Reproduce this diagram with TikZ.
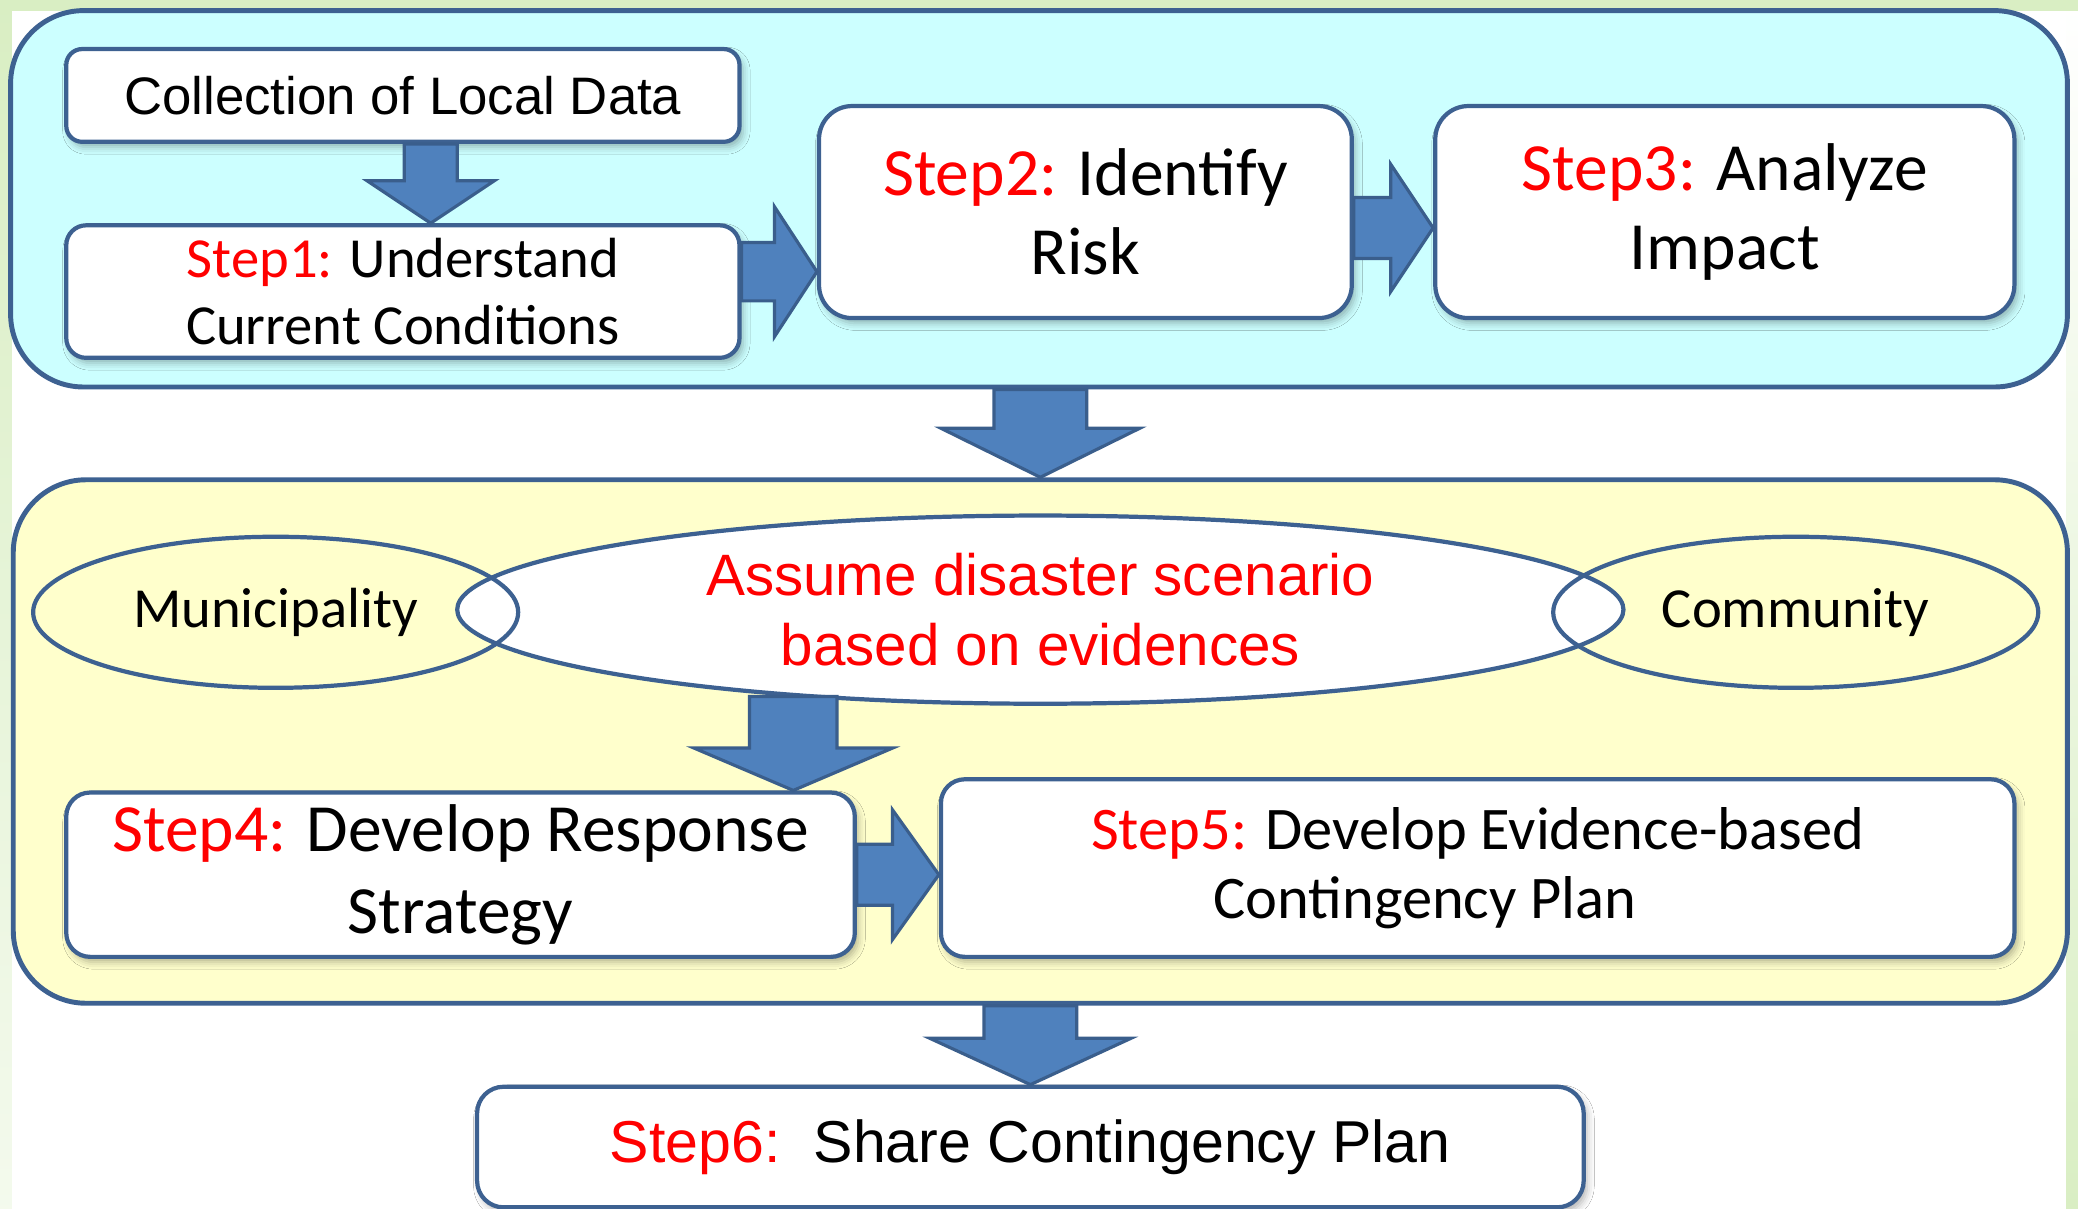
\documentclass[tikz,border=0pt]{standalone}
\usepackage{fontspec}
\setmainfont{Carlito}
\newfontfamily\arialfont{Liberation Sans}
\usetikzlibrary{shapes.geometric,calc,shadows.blur}

\newlength{\unitpx}
\setlength{\unitpx}{0.01325cm}

\definecolor{edgeblue}{HTML}{3D6191}
\definecolor{arrowfill}{HTML}{4F81BD}
\definecolor{arrowedge}{HTML}{3A5E8C}
\definecolor{cyanpanel}{HTML}{CCFFFF}
\definecolor{yellowpanel}{HTML}{FFFFCC}
\definecolor{framegreen}{HTML}{D9EEC3}
\definecolor{stepred}{HTML}{FF0000}

\newcommand{\stepno}[1]{\textcolor{stepred}{#1}}

\newcommand{\blockdown}[5]{%
  \filldraw[blockarrow] ($(#2 |- #1)+(-#3,0)$) -- ($(#2 |- #1)+(#3,0)$)
    -- ($(#2)+(#3,-#5)$) -- ($(#2)+(#4,-#5)$) -- (#2)
    -- ($(#2)+(-#4,-#5)$) -- ($(#2)+(-#3,-#5)$) -- cycle;}
\newcommand{\blockright}[5]{%
  \filldraw[blockarrow] ($(#1 |- #2)+(0,-#3)$) -- ($(#2)+(-#5,-#3)$)
    -- ($(#2)+(-#5,-#4)$) -- (#2)
    -- ($(#2)+(-#5,#4)$) -- ($(#2)+(-#5,#3)$) -- ($(#1 |- #2)+(0,#3)$) -- cycle;}

\tikzset{
  panelbox/.style={draw=edgeblue, line width=1.4pt, rounded corners=55\unitpx, inner sep=0pt},
  stepbox/.style={draw=edgeblue, fill=white, line width=1.2pt, align=center, inner sep=0pt,
    blur shadow={shadow xshift=1pt, shadow yshift=-1.5pt, shadow blur radius=2pt, shadow opacity=30}},
  ovalbox/.style={ellipse, draw=edgeblue, line width=1.2pt, inner sep=0pt, align=center},
  blockarrow/.style={fill=arrowfill, draw=arrowedge, line width=0.9pt},
}

\begin{document}
\begin{tikzpicture}[x=\unitpx, y=-\unitpx]
\useasboundingbox (0,0) rectangle (1568,912);
\fill[white] (0,0) rectangle (1568,912);
\shade[top color=framegreen, bottom color=framegreen!30] (0,0) rectangle (9,912);
\shade[top color=white, bottom color=framegreen] (1559,0) rectangle (1568,912);
\fill[framegreen] (0,0) rectangle (1568,8);

% two stages
\node[panelbox, fill=cyanpanel, minimum width=1552\unitpx, minimum height=284\unitpx] (upper) at (784,150) {};
\node[panelbox, fill=yellowpanel, minimum width=1550\unitpx, minimum height=395\unitpx] (lower) at (785,559.5) {};

\node[stepbox, rounded corners=12\unitpx, minimum width=508\unitpx, minimum height=70\unitpx,
  font=\arialfont\fontsize{15}{18}\selectfont] (collect) at (304,72) {Collection of Local Data};
\node[stepbox, rounded corners=15\unitpx, minimum width=508\unitpx, minimum height=100\unitpx,
  font=\fontsize{16.1}{19.2}\selectfont] (step1) at (304,220) {\stepno{Step1:} Understand\\Current Conditions};
\node[stepbox, rounded corners=25\unitpx, minimum width=402\unitpx, minimum height=160\unitpx,
  font=\fontsize{19.2}{22.5}\selectfont] (step2) at (819,160) {\stepno{Step2:} Identify\\Risk};
\node[stepbox, rounded corners=25\unitpx, minimum width=437\unitpx, minimum height=160\unitpx,
  font=\fontsize{19.2}{22.5}\selectfont] (step3) at (1301.5,160) {\stepno{Step3:} Analyze\\Impact};

\coordinate (tip1) at ($(step1.north)+(21,0)$);
\coordinate (tip2) at ($(step2.west |- step1.east)+(0,-15)$);
\coordinate (tip3) at ($(step3.west)+(0,12)$);
\blockdown{collect.south}{tip1}{20}{48}{32}
\blockright{step1.east}{tip2}{22}{49}{32}
\blockright{step2.east}{tip3}{23}{48}{32}

\node[ovalbox, fill=white, minimum width=880\unitpx, minimum height=142\unitpx,
  label={[font=\arialfont\fontsize{16.6}{19.9}\selectfont, text=stepred, align=center]center:{Assume disaster scenario\\based on evidences}}]
  (scenario) at (785,460) {};
\node[ovalbox, minimum width=366\unitpx, minimum height=114\unitpx,
  font=\fontsize{16.1}{19}\selectfont] (muni) at (208,462) {Municipality};
\node[ovalbox, minimum width=366\unitpx, minimum height=114\unitpx,
  font=\fontsize{16.1}{19}\selectfont] (comm) at (1355,462) {Community};

\node[stepbox, rounded corners=18\unitpx, minimum width=595\unitpx, minimum height=124\unitpx,
  font=\fontsize{19.2}{23.3}\selectfont] (step4) at (347.5,660) {\stepno{Step4:} Develop Response\\Strategy};
\node[stepbox, rounded corners=18\unitpx, minimum width=810\unitpx, minimum height=134\unitpx,
  font=\fontsize{17.2}{19.5}\selectfont] (step5) at (1115,655) {\stepno{Step5:} Develop Evidence-based\\Contingency Plan\hspace*{30pt}};
\node[stepbox, rounded corners=20\unitpx, minimum width=835\unitpx, minimum height=91\unitpx,
  font=\arialfont\fontsize{16.8}{20}\selectfont] (step6) at (777.5,865.5) {\stepno{Step6:}\ \ Share Contingency Plan};

\coordinate (tip4) at ($(step4.north east)+(-48,0)$);
\coordinate (tip5) at (step5.west |- step4.east);
\blockdown{upper.south}{lower.north}{35}{75}{37}
\blockdown{scenario.199}{tip4}{33}{75}{32}
\blockright{step4.east}{tip5}{23}{49}{35}
\blockdown{lower.south}{step6.north}{35}{76}{35}
\end{tikzpicture}
\end{document}
